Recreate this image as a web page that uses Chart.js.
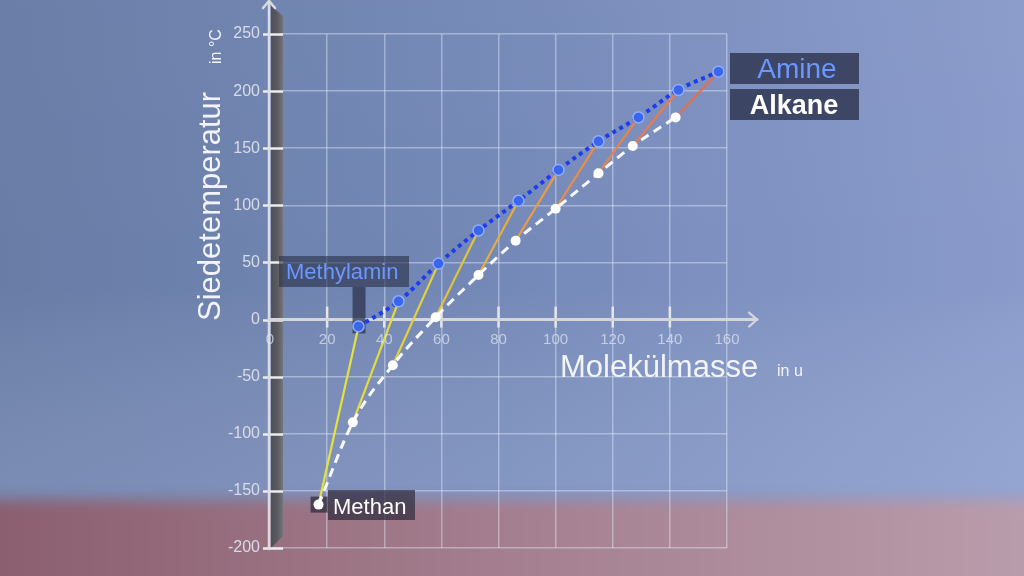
<!DOCTYPE html>
<html><head><meta charset="utf-8">
<style>html,body{margin:0;padding:0;background:#7083ae;overflow:hidden}#wrap{width:1024px;height:576px;position:relative}canvas{display:block}</style>
<script src="https://cdn.jsdelivr.net/npm/chart.js@4.4.1/dist/chart.umd.min.js"></script>
</head><body><div id="wrap"><canvas id="c" width="1024" height="576"></canvas></div>
<script>
// ---- data ----
const seriesNames = ['Amine', 'Alkane'];
const alkaneMass = [17, 29, 43, 58, 73, 86, 100, 115, 127, 142];
const alkaneBp   = [-162, -90, -40, 2, 39, 69, 97, 128, 152, 177];
const amineMass  = [31, 45, 59, 73, 87, 101, 115, 129, 143, 157];
const amineBp    = [-6, 16, 49, 78, 104, 131, 156, 177, 201, 217];
const xTicks = [0, 20, 40, 60, 80, 100, 120, 140, 160];
const yTicks = [-200, -150, -100, -50, 0, 50, 100, 150, 200, 250];
const yTitle = 'Siedetemperatur', yUnit = 'in °C';
const xTitle = 'Molekülmasse', xUnit = 'in u';
const calloutAmine = 'Methylamin', calloutAlkane = 'Methan';
const connectorColors = ['#e4e23c','#e2dc3c','#e2d03e','#e2c040','#e6ac42','#e89c44','#e88e46','#e8844a','#e87a4c','#e2704e'];

const FONT = '"Liberation Sans", Arial, Helvetica, sans-serif';

const datasets = [];
for (let i = 0; i < alkaneMass.length; i++) {
  datasets.push({
    label: 'link' + i,
    data: [{x: alkaneMass[i], y: alkaneBp[i]}, {x: amineMass[i], y: amineBp[i]}],
    borderColor: connectorColors[i], borderWidth: 2.2, pointRadius: 0, order: 3
  });
}
datasets.push({
  label: seriesNames[1],
  data: alkaneMass.map((m, i) => ({x: m, y: alkaneBp[i]})),
  borderColor: 'rgba(255,255,255,0.95)', borderWidth: 3, borderDash: [9, 6],
  cubicInterpolationMode: 'monotone',
  pointRadius: 5, pointBackgroundColor: '#ffffff', pointBorderColor: '#f4f4f4', pointBorderWidth: 0,
  order: 2
});
datasets.push({
  label: seriesNames[0],
  data: amineMass.map((m, i) => ({x: m, y: amineBp[i]})),
  borderColor: '#1d3cf0', borderWidth: 4, borderDash: [4, 4],
  cubicInterpolationMode: 'monotone',
  pointRadius: 5.5, pointBackgroundColor: '#3a66ee', pointBorderColor: '#8eaeff', pointBorderWidth: 1.5,
  order: 1
});

function box(ctx, x, y, w, h, c) { ctx.fillStyle = c; ctx.fillRect(x, y, w, h); }

const deco = {
  id: 'deco',
  beforeDraw(chart) {
    const ctx = chart.ctx;
    ctx.save();
    let g = ctx.createLinearGradient(0, 0, 1024, 0);
    g.addColorStop(0, '#687ca6'); g.addColorStop(0.5, '#7589b8'); g.addColorStop(1, '#8a9bcb');
    ctx.fillStyle = g; ctx.fillRect(0, 0, 1024, 576);
    let v = ctx.createLinearGradient(0, 0, 0, 576);
    v.addColorStop(0, 'rgba(255,255,255,0.02)');
    v.addColorStop(0.5, 'rgba(255,255,255,0.0)');
    v.addColorStop(0.84, 'rgba(200,210,240,0.18)');
    v.addColorStop(1, 'rgba(200,210,240,0.0)');
    ctx.fillStyle = v; ctx.fillRect(0, 0, 1024, 576);
    ctx.filter = 'blur(7px)';
    let p = ctx.createLinearGradient(0, 0, 1024, 0);
    p.addColorStop(0, '#8b5f70'); p.addColorStop(0.45, '#a27c8c'); p.addColorStop(1, '#b99cab');
    ctx.fillStyle = p; ctx.fillRect(-20, 500, 1064, 100);
    ctx.filter = 'none';
    ctx.restore();
  },
  beforeDatasetsDraw(chart) {
    const ctx = chart.ctx;
    const xs = chart.scales.x, ys = chart.scales.y;
    const x0 = xs.getPixelForValue(0), y0 = ys.getPixelForValue(0);
    const yb = ys.getPixelForValue(-200);
    ctx.save();
    ctx.beginPath();
    ctx.moveTo(x0 + 1, 6); ctx.lineTo(x0 + 13, 16); ctx.lineTo(x0 + 13, yb - 12); ctx.lineTo(x0 + 1, yb); ctx.closePath();
    let bg = ctx.createLinearGradient(x0, 0, x0 + 13, 0);
    bg.addColorStop(0, '#4c4e55'); bg.addColorStop(0.6, '#5a5c62'); bg.addColorStop(1, '#74767c');
    ctx.fillStyle = bg; ctx.fill();
    ctx.strokeStyle = '#ececee'; ctx.lineWidth = 2.5;
    for (const t of yTicks) {
      const py = Math.round(ys.getPixelForValue(t)) + 0.5;
      ctx.beginPath(); ctx.moveTo(x0 - 7, py); ctx.lineTo(x0 + 13, py); ctx.stroke();
    }
    ctx.strokeStyle = '#e6e6ea'; ctx.lineWidth = 2.5;
    for (const t of xTicks) {
      if (t === 0 || t === 160) continue;
      const px = xs.getPixelForValue(t);
      ctx.beginPath(); ctx.moveTo(px, y0 - 13); ctx.lineTo(px, y0 + 8); ctx.stroke();
    }
    ctx.strokeStyle = '#dcdce0'; ctx.lineWidth = 2.5; ctx.lineCap = 'round';
    ctx.beginPath(); ctx.moveTo(x0 - 1, yb + 1); ctx.lineTo(x0 - 1, 1); ctx.stroke();
    ctx.beginPath(); ctx.moveTo(x0 - 7, 8); ctx.lineTo(x0 - 1, 1); ctx.lineTo(x0 + 5, 8); ctx.stroke();
    ctx.strokeStyle = '#d6d6da'; ctx.lineWidth = 3;
    ctx.beginPath(); ctx.moveTo(x0, y0); ctx.lineTo(757, y0); ctx.stroke();
    ctx.lineWidth = 2.2;
    ctx.beginPath(); ctx.moveTo(749, y0 - 7); ctx.lineTo(757, y0); ctx.lineTo(749, y0 + 7); ctx.stroke();
    const mx = xs.getPixelForValue(amineMass[0]), my = ys.getPixelForValue(amineBp[0]);
    box(ctx, 279, 256, 130, 31, 'rgba(42,48,72,0.62)');
    box(ctx, mx - 6, 287, 13, my - 287 + 7, 'rgba(42,48,72,0.72)');
    const ax = xs.getPixelForValue(alkaneMass[0]), ay = ys.getPixelForValue(alkaneBp[0]);
    box(ctx, ax - 8, ay - 8, 17, 16, 'rgba(48,44,62,0.75)');
    box(ctx, 328, 490, 87, 30, 'rgba(48,44,62,0.72)');
    box(ctx, 730, 53, 129, 31, 'rgba(44,50,76,0.8)');
    box(ctx, 730, 89, 129, 31, 'rgba(44,50,76,0.8)');
    ctx.restore();
  },
  afterDatasetsDraw(chart) {
    const ctx = chart.ctx;
    ctx.save();
    ctx.textBaseline = 'alphabetic';
    ctx.fillStyle = '#f2f4fa';
    ctx.save(); ctx.translate(220, 321); ctx.rotate(-Math.PI / 2);
    ctx.font = '31px ' + FONT; ctx.textAlign = 'left'; ctx.fillText(yTitle, 0, 0);
    ctx.restore();
    ctx.save(); ctx.translate(221, 64); ctx.rotate(-Math.PI / 2);
    ctx.font = '16px ' + FONT; ctx.textAlign = 'left'; ctx.fillText(yUnit, 0, 0);
    ctx.restore();
    ctx.font = '31px ' + FONT; ctx.textAlign = 'left';
    ctx.fillText(xTitle, 560, 377);
    ctx.font = '16px ' + FONT; ctx.fillText(xUnit, 777, 376);
    ctx.font = '22px ' + FONT; ctx.fillStyle = '#6c97ff';
    ctx.fillText(calloutAmine, 286, 279);
    ctx.font = '22px ' + FONT; ctx.fillStyle = '#ffffff';
    ctx.fillText(calloutAlkane, 333, 514);
    ctx.textAlign = 'center';
    ctx.font = '28px ' + FONT; ctx.fillStyle = '#6c97ff';
    ctx.fillText(seriesNames[0], 797, 78);
    ctx.font = 'bold 27px ' + FONT; ctx.fillStyle = '#ffffff';
    ctx.fillText(seriesNames[1], 794, 114);
    ctx.restore();
  }
};

new Chart(document.getElementById('c'), {
  type: 'line',
  data: {datasets},
  options: {
    responsive: false, animation: false, devicePixelRatio: 1,
    layout: {padding: {left: 210, right: 297, top: 34, bottom: 28}},
    plugins: {legend: {display: false}, tooltip: {enabled: false}},
    scales: {
      x: {
        type: 'linear', min: 0, max: 160, position: {y: 0},
        afterFit: s => { s.height = 0; },
        afterBuildTicks: s => { s.ticks = xTicks.map(v => ({value: v})); },
        grid: {color: 'rgba(232,238,255,0.42)', lineWidth: 1.5, drawTicks: false},
        border: {display: false},
        ticks: {color: 'rgba(222,228,242,0.72)', font: {family: FONT, size: 15}, padding: 11, maxRotation: 0, autoSkip: false, z: 1}
      },
      y: {
        type: 'linear', min: -200, max: 250, position: 'left',
        afterFit: s => { s.width = 60; },
        afterBuildTicks: s => { s.ticks = yTicks.map(v => ({value: v})); },
        grid: {color: 'rgba(232,238,255,0.42)', lineWidth: 1.5, drawTicks: true, tickLength: 8, tickColor: 'rgba(0,0,0,0)'},
        border: {display: false},
        ticks: {color: '#d8dce8', font: {family: FONT, size: 16}, padding: 2, autoSkip: false}
      }
    }
  },
  plugins: [deco]
});
</script>
</body></html>
